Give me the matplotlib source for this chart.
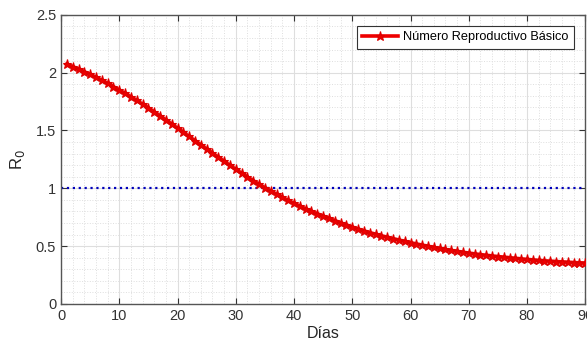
import numpy as np
import matplotlib
matplotlib.use("Agg")
import matplotlib.pyplot as plt
from matplotlib.ticker import MultipleLocator

plt.rcParams['font.family'] = ['Liberation Sans', 'DejaVu Sans']

dias = list(range(1, 91))
r0 = [2.075, 2.053, 2.030, 2.008, 1.985, 1.960, 1.934, 1.907, 1.879, 1.850,
      1.821, 1.791, 1.760, 1.728, 1.695, 1.661, 1.626, 1.591, 1.556, 1.520,
      1.484, 1.448, 1.412, 1.376, 1.340, 1.304, 1.269, 1.234, 1.199, 1.165,
      1.131, 1.098, 1.066, 1.035, 1.005, 0.976, 0.948, 0.921, 0.895, 0.870,
      0.846, 0.823, 0.801, 0.780, 0.760, 0.740, 0.721, 0.702, 0.683, 0.665,
      0.648, 0.632, 0.617, 0.603, 0.590, 0.577, 0.565, 0.553, 0.541, 0.530,
      0.519, 0.509, 0.499, 0.489, 0.480, 0.471, 0.463, 0.455, 0.447, 0.440,
      0.433, 0.427, 0.421, 0.415, 0.410, 0.405, 0.400, 0.395, 0.390, 0.385,
      0.381, 0.377, 0.373, 0.370, 0.367, 0.364, 0.361, 0.358, 0.356, 0.354]
umbral = 1.0
etiqueta = 'Número Reproductivo Básico'

fig = plt.figure(figsize=(5.87, 3.45), dpi=100)
ax = fig.add_axes([0.104, 0.119, 0.893, 0.838])

ax.plot(dias, r0, color='#ee0000', linewidth=2.6, marker='*', markersize=6.5,
        markeredgecolor='#dd0000', markeredgewidth=0.8, label=etiqueta, zorder=3)
ax.plot([0, 90], [umbral, umbral], color='#0000bb', linestyle=':', linewidth=1.6, zorder=2)

ax.set_xlim(0, 90)
ax.set_ylim(0, 2.5)
ax.xaxis.set_major_locator(MultipleLocator(10))
ax.xaxis.set_minor_locator(MultipleLocator(2))
ax.yaxis.set_major_locator(MultipleLocator(0.5))
ax.yaxis.set_minor_locator(MultipleLocator(0.1))
ax.set_yticks([0, 0.5, 1, 1.5, 2, 2.5], ['0', '0.5', '1', '1.5', '2', '2.5'])

ax.grid(which='major', color='#dedede', linewidth=0.8)
ax.grid(which='minor', color='#dedede', linestyle=':', linewidth=0.7)
ax.set_axisbelow(True)

ax.tick_params(which='both', direction='in', top=True, right=True, colors='#333333',
               labelsize=10.5)
ax.tick_params(which='major', length=4)
ax.tick_params(which='minor', length=0)
for s in ax.spines.values():
    s.set_color('#555555')
    s.set_linewidth(1.0)

ax.set_xlabel('Días', fontsize=11.5, color='#262626', labelpad=2)
ax.set_ylabel('R$_0$', fontsize=12, color='#262626', labelpad=6)

leg = ax.legend(loc='upper right', fontsize=9.2, fancybox=False, framealpha=1,
                edgecolor='#333333', borderaxespad=0.9, handlelength=2.8,
                handletextpad=0.4, borderpad=0.4)
leg.get_frame().set_linewidth(0.8)

fig.savefig('out.png', dpi=100)
